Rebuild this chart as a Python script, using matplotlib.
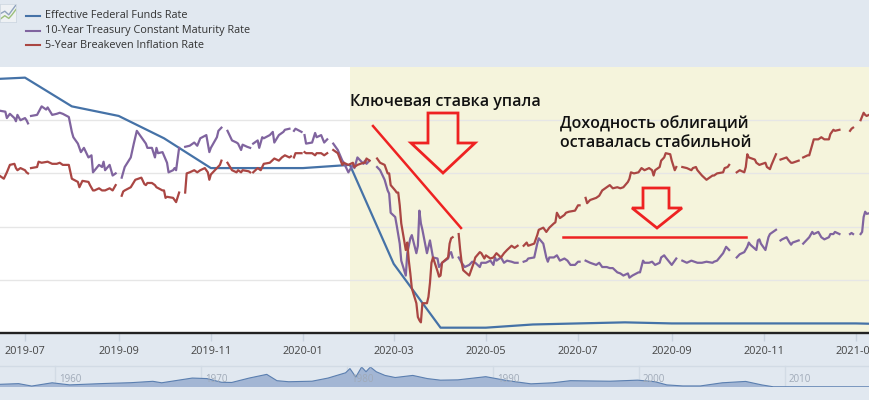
import numpy as np
import pandas as pd
import matplotlib
matplotlib.use("Agg")
import matplotlib.pyplot as plt
from matplotlib.patches import Polygon
from matplotlib.lines import Line2D
import matplotlib.transforms as mtransforms

nan = np.nan

# ---------------- data ----------------
legend_labels = ["Effective Federal Funds Rate",
                 "10-Year Treasury Constant Maturity Rate",
                 "5-Year Breakeven Inflation Rate"]

fedfunds_dates = ["2019-06-01", "2019-07-01", "2019-08-01", "2019-09-01", "2019-10-01",
                  "2019-11-01", "2019-12-01", "2020-01-01", "2020-02-01", "2020-03-01",
                  "2020-04-01", "2020-05-01", "2020-06-01", "2020-07-01", "2020-08-01",
                  "2020-09-01", "2020-10-01", "2020-11-01", "2020-12-01", "2021-01-01",
                  "2021-02-01"]
fedfunds_values = [2.38, 2.40, 2.13, 2.04, 1.83, 1.55, 1.55, 1.55, 1.58, 0.65,
                   0.05, 0.05, 0.08, 0.09, 0.10, 0.09, 0.09, 0.09, 0.09, 0.09,
                   0.08]

t10_dates = [
    "2019-06-14", "2019-06-18", "2019-06-19", "2019-06-21", "2019-06-24", "2019-06-25", "2019-06-26",
    "2019-06-28", "2019-07-01", "2019-07-02", "2019-07-03", "2019-07-04", "2019-07-05", "2019-07-09",
    "2019-07-12", "2019-07-15", "2019-07-16", "2019-07-19", "2019-07-22", "2019-07-24", "2019-07-26",
    "2019-07-30", "2019-08-01", "2019-08-02", "2019-08-05", "2019-08-07", "2019-08-09", "2019-08-12",
    "2019-08-14", "2019-08-15", "2019-08-19", "2019-08-21", "2019-08-22", "2019-08-23", "2019-08-26",
    "2019-08-28", "2019-08-30", "2019-09-02", "2019-09-03", "2019-09-05", "2019-09-09", "2019-09-11",
    "2019-09-13", "2019-09-16", "2019-09-18", "2019-09-19", "2019-09-20", "2019-09-23", "2019-09-25",
    "2019-09-26", "2019-09-27", "2019-09-30", "2019-10-03", "2019-10-04", "2019-10-07", "2019-10-08",
    "2019-10-09", "2019-10-11", "2019-10-14", "2019-10-15", "2019-10-18", "2019-10-21", "2019-10-23",
    "2019-10-25", "2019-10-29", "2019-10-31", "2019-11-01", "2019-11-05", "2019-11-06", "2019-11-08",
    "2019-11-11", "2019-11-12", "2019-11-15", "2019-11-18", "2019-11-19", "2019-11-21", "2019-11-22",
    "2019-11-25", "2019-11-27", "2019-11-28", "2019-11-29", "2019-12-02", "2019-12-03", "2019-12-05",
    "2019-12-06", "2019-12-10", "2019-12-12", "2019-12-13", "2019-12-16", "2019-12-19", "2019-12-20",
    "2019-12-23", "2019-12-25", "2019-12-26", "2019-12-27", "2019-12-31", "2020-01-01", "2020-01-02",
    "2020-01-03", "2020-01-07", "2020-01-09", "2020-01-10", "2020-01-13", "2020-01-15", "2020-01-17",
    "2020-01-20", "2020-01-21", "2020-01-24", "2020-01-27", "2020-01-28", "2020-01-31", "2020-02-03",
    "2020-02-04", "2020-02-06", "2020-02-10", "2020-02-11", "2020-02-12", "2020-02-14", "2020-02-17",
    "2020-02-19", "2020-02-21", "2020-02-24", "2020-02-26", "2020-02-27", "2020-02-28", "2020-03-02",
    "2020-03-03", "2020-03-05", "2020-03-06", "2020-03-09", "2020-03-10", "2020-03-12", "2020-03-13",
    "2020-03-16", "2020-03-17", "2020-03-18", "2020-03-19", "2020-03-20", "2020-03-23", "2020-03-25",
    "2020-03-27", "2020-03-30", "2020-03-31", "2020-04-02", "2020-04-06", "2020-04-07", "2020-04-08",
    "2020-04-09", "2020-04-10", "2020-04-13", "2020-04-15", "2020-04-17", "2020-04-20", "2020-04-22",
    "2020-04-24", "2020-04-27", "2020-04-28", "2020-05-01", "2020-05-04", "2020-05-06", "2020-05-07",
    "2020-05-08", "2020-05-11", "2020-05-13", "2020-05-15", "2020-05-18", "2020-05-20", "2020-05-22",
    "2020-05-25", "2020-05-26", "2020-05-28", "2020-05-29", "2020-06-02", "2020-06-04", "2020-06-05",
    "2020-06-08", "2020-06-10", "2020-06-11", "2020-06-12", "2020-06-15", "2020-06-17", "2020-06-19",
    "2020-06-22", "2020-06-24", "2020-06-26", "2020-06-29", "2020-07-01", "2020-07-02", "2020-07-03",
    "2020-07-06", "2020-07-09", "2020-07-13", "2020-07-15", "2020-07-17", "2020-07-20", "2020-07-22",
    "2020-07-24", "2020-07-27", "2020-07-29", "2020-07-31", "2020-08-03", "2020-08-04", "2020-08-06",
    "2020-08-10", "2020-08-11", "2020-08-13", "2020-08-14", "2020-08-17", "2020-08-19", "2020-08-21",
    "2020-08-24", "2020-08-25", "2020-08-27", "2020-08-28", "2020-09-01", "2020-09-04", "2020-09-07",
    "2020-09-08", "2020-09-11", "2020-09-14", "2020-09-18", "2020-09-21", "2020-09-24", "2020-09-28",
    "2020-09-29", "2020-10-01", "2020-10-05", "2020-10-06", "2020-10-07", "2020-10-09", "2020-10-12",
    "2020-10-14", "2020-10-16", "2020-10-19", "2020-10-21", "2020-10-22", "2020-10-23", "2020-10-27",
    "2020-10-28", "2020-10-29", "2020-10-30", "2020-11-02", "2020-11-04", "2020-11-05", "2020-11-09",
    "2020-11-11", "2020-11-12", "2020-11-13", "2020-11-16", "2020-11-18", "2020-11-19", "2020-11-20",
    "2020-11-24", "2020-11-26", "2020-11-27", "2020-12-01", "2020-12-03", "2020-12-04", "2020-12-07",
    "2020-12-09", "2020-12-11", "2020-12-14", "2020-12-15", "2020-12-17", "2020-12-18", "2020-12-21",
    "2020-12-24", "2020-12-28", "2020-12-29", "2020-12-30", "2021-01-01", "2021-01-04", "2021-01-05",
    "2021-01-06", "2021-01-07", "2021-01-08", "2021-01-11"]
t10_values = [
    2.09, 2.08, 2.02, 2.06, 2.02, 1.99, 2.05,
    2.00, 2.02, 2.00, 1.97, nan, 2.04, 2.05,
    2.13, 2.10, 2.12, 2.05, 2.06, 2.07, 2.06,
    2.03, 1.89, 1.84, 1.78, 1.70, 1.74, 1.65,
    1.67, 1.51, 1.58, 1.56, 1.61, 1.53, 1.58,
    1.48, 1.50, nan, 1.46, 1.56, 1.65, 1.78,
    1.90, 1.84, 1.80, 1.78, 1.74, 1.74, 1.65,
    1.74, 1.69, 1.70, 1.60, 1.51, 1.53, 1.55,
    1.53, 1.74, nan, 1.75, 1.76, 1.79, 1.76,
    1.83, 1.86, 1.70, 1.74, 1.84, 1.90, 1.93,
    nan, 1.90, 1.81, 1.79, 1.78, 1.72, 1.77,
    1.75, 1.74, nan, 1.78, 1.81, 1.74, 1.84,
    1.83, 1.86, 1.89, 1.79, 1.86, 1.89, 1.91,
    1.92, nan, 1.90, 1.92, 1.89, nan, 1.86,
    1.78, 1.79, 1.88, 1.84, 1.86, 1.79, 1.82,
    nan, 1.78, 1.72, 1.62, 1.60, 1.51, 1.58,
    1.55, 1.65, 1.59, 1.62, 1.59, 1.62, nan,
    1.56, 1.53, 1.44, 1.34, 1.31, 1.13, 1.09,
    1.01, 0.84, 0.68, 0.54, 0.75, 0.89, 0.92,
    0.75, 0.82, 1.15, 1.03, 0.97, 0.75, 0.87,
    0.71, 0.70, 0.62, 0.66, 0.70, 0.75, 0.76,
    0.71, nan, 0.71, 0.66, 0.62, 0.64, 0.67,
    0.66, 0.62, 0.66, 0.66, 0.68, 0.64, 0.71,
    0.68, 0.71, 0.66, 0.68, 0.67, 0.66, 0.66,
    nan, 0.67, 0.68, 0.70, 0.71, 0.84, 0.89,
    0.84, 0.71, 0.67, 0.71, 0.71, 0.73, 0.68,
    0.70, 0.68, 0.64, 0.64, 0.67, 0.67, nan,
    0.68, 0.66, 0.64, 0.66, 0.62, 0.62, 0.61,
    0.61, 0.57, 0.56, 0.54, 0.56, 0.52, 0.54,
    0.57, 0.57, 0.68, 0.66, 0.66, 0.67, 0.64,
    0.66, 0.71, 0.73, 0.71, 0.64, 0.70, nan,
    0.68, 0.66, 0.68, 0.66, 0.66, 0.67, 0.66,
    0.67, 0.68, 0.75, 0.78, 0.81, 0.78, nan,
    0.71, 0.74, 0.76, 0.81, 0.85, 0.83, 0.78,
    0.87, 0.88, 0.84, 0.78, 0.90, 0.93, 0.97,
    nan, 0.87, 0.88, 0.90, 0.85, 0.83, 0.85,
    0.87, nan, 0.84, 0.90, 0.95, 0.93, 0.95,
    0.90, 0.88, 0.90, 0.93, 0.93, 0.95, 0.93,
    nan, 0.93, 0.94, 0.93, nan, 0.93, 0.95,
    1.09, 1.14, 1.12, 1.13]

be5_dates = [
    "2019-06-14", "2019-06-17", "2019-06-19", "2019-06-21", "2019-06-24", "2019-06-25", "2019-06-26",
    "2019-06-28", "2019-07-01", "2019-07-02", "2019-07-03", "2019-07-04", "2019-07-05", "2019-07-09",
    "2019-07-10", "2019-07-12", "2019-07-16", "2019-07-19", "2019-07-22", "2019-07-24", "2019-07-26",
    "2019-07-30", "2019-08-01", "2019-08-05", "2019-08-06", "2019-08-08", "2019-08-12", "2019-08-13",
    "2019-08-15", "2019-08-16", "2019-08-19", "2019-08-21", "2019-08-23", "2019-08-26", "2019-08-28",
    "2019-08-30", "2019-09-02", "2019-09-03", "2019-09-04", "2019-09-05", "2019-09-09", "2019-09-12",
    "2019-09-16", "2019-09-18", "2019-09-19", "2019-09-20", "2019-09-23", "2019-09-25", "2019-09-26",
    "2019-09-30", "2019-10-01", "2019-10-02", "2019-10-03", "2019-10-07", "2019-10-08", "2019-10-09",
    "2019-10-11", "2019-10-14", "2019-10-15", "2019-10-16", "2019-10-18", "2019-10-21", "2019-10-23",
    "2019-10-25", "2019-10-28", "2019-10-30", "2019-10-31", "2019-11-01", "2019-11-05", "2019-11-07",
    "2019-11-08", "2019-11-11", "2019-11-12", "2019-11-15", "2019-11-18", "2019-11-19", "2019-11-21",
    "2019-11-22", "2019-11-26", "2019-11-27", "2019-11-28", "2019-11-29", "2019-12-02", "2019-12-04",
    "2019-12-06", "2019-12-10", "2019-12-13", "2019-12-16", "2019-12-18", "2019-12-20", "2019-12-23",
    "2019-12-24", "2019-12-25", "2019-12-26", "2019-12-27", "2019-12-31", "2020-01-01", "2020-01-02",
    "2020-01-03", "2020-01-07", "2020-01-09", "2020-01-10", "2020-01-13", "2020-01-15", "2020-01-17",
    "2020-01-20", "2020-01-21", "2020-01-24", "2020-01-27", "2020-01-28", "2020-01-31", "2020-02-03",
    "2020-02-04", "2020-02-06", "2020-02-10", "2020-02-11", "2020-02-12", "2020-02-14", "2020-02-17",
    "2020-02-19", "2020-02-21", "2020-02-24", "2020-02-26", "2020-02-27", "2020-02-28", "2020-03-02",
    "2020-03-03", "2020-03-04", "2020-03-05", "2020-03-06", "2020-03-09", "2020-03-10", "2020-03-11",
    "2020-03-12", "2020-03-13", "2020-03-16", "2020-03-17", "2020-03-18", "2020-03-19", "2020-03-20",
    "2020-03-23", "2020-03-24", "2020-03-25", "2020-03-26", "2020-03-27", "2020-03-30", "2020-03-31",
    "2020-04-01", "2020-04-02", "2020-04-06", "2020-04-07", "2020-04-08", "2020-04-09", "2020-04-10",
    "2020-04-13", "2020-04-14", "2020-04-15", "2020-04-16", "2020-04-20", "2020-04-21", "2020-04-22",
    "2020-04-23", "2020-04-24", "2020-04-27", "2020-04-28", "2020-04-30", "2020-05-01", "2020-05-04",
    "2020-05-06", "2020-05-08", "2020-05-11", "2020-05-13", "2020-05-15", "2020-05-18", "2020-05-20",
    "2020-05-22", "2020-05-25", "2020-05-26", "2020-05-28", "2020-05-29", "2020-06-02", "2020-06-04",
    "2020-06-05", "2020-06-08", "2020-06-10", "2020-06-12", "2020-06-15", "2020-06-16", "2020-06-17",
    "2020-06-19", "2020-06-22", "2020-06-23", "2020-06-25", "2020-06-29", "2020-07-01", "2020-07-02",
    "2020-07-03", "2020-07-06", "2020-07-07", "2020-07-09", "2020-07-13", "2020-07-15", "2020-07-17",
    "2020-07-20", "2020-07-22", "2020-07-24", "2020-07-27", "2020-07-29", "2020-07-31", "2020-08-03",
    "2020-08-04", "2020-08-05", "2020-08-07", "2020-08-10", "2020-08-12", "2020-08-14", "2020-08-17",
    "2020-08-19", "2020-08-20", "2020-08-21", "2020-08-24", "2020-08-25", "2020-08-27", "2020-08-28",
    "2020-08-31", "2020-09-01", "2020-09-03", "2020-09-04", "2020-09-07", "2020-09-08", "2020-09-11",
    "2020-09-14", "2020-09-15", "2020-09-17", "2020-09-18", "2020-09-21", "2020-09-24", "2020-09-28",
    "2020-09-29", "2020-10-01", "2020-10-05", "2020-10-06", "2020-10-08", "2020-10-09", "2020-10-12",
    "2020-10-14", "2020-10-16", "2020-10-19", "2020-10-20", "2020-10-21", "2020-10-22", "2020-10-26",
    "2020-10-27", "2020-10-29", "2020-11-02", "2020-11-03", "2020-11-05", "2020-11-06", "2020-11-09",
    "2020-11-11", "2020-11-12", "2020-11-16", "2020-11-17", "2020-11-19", "2020-11-20", "2020-11-24",
    "2020-11-26", "2020-11-27", "2020-11-30", "2020-12-01", "2020-12-03", "2020-12-04", "2020-12-07",
    "2020-12-09", "2020-12-11", "2020-12-14", "2020-12-15", "2020-12-17", "2020-12-18", "2020-12-21",
    "2020-12-24", "2020-12-28", "2020-12-29", "2020-12-30", "2021-01-01", "2021-01-04", "2021-01-06",
    "2021-01-07", "2021-01-08", "2021-01-11"]
be5_values = [
    1.48, 1.45, 1.51, 1.58, 1.59, 1.55, 1.53,
    1.55, 1.53, 1.51, 1.50, nan, 1.55, 1.56,
    1.61, 1.60, 1.61, 1.59, 1.59, 1.60, 1.58,
    1.58, 1.45, 1.42, 1.37, 1.43, 1.42, 1.39,
    1.34, 1.34, 1.36, 1.34, 1.34, 1.36, 1.34,
    1.39, nan, 1.29, 1.33, 1.34, 1.37, 1.44,
    1.46, 1.40, 1.39, 1.41, 1.41, 1.39, 1.37,
    1.34, 1.34, 1.27, 1.28, 1.27, 1.25, 1.23,
    1.32, nan, 1.32, 1.50, 1.51, 1.53, 1.51,
    1.53, 1.55, 1.51, 1.44, 1.49, 1.55, 1.58,
    1.62, nan, 1.60, 1.53, 1.51, 1.53, 1.51,
    1.53, 1.52, 1.51, nan, 1.51, 1.55, 1.53,
    1.59, 1.60, 1.64, 1.62, 1.65, 1.67, 1.65,
    1.66, nan, 1.65, 1.69, 1.69, nan, 1.70,
    1.69, 1.69, 1.67, 1.69, 1.69, 1.67, 1.69,
    nan, 1.72, 1.69, 1.58, 1.60, 1.58, 1.60,
    1.56, 1.58, 1.60, 1.60, 1.64, 1.62, nan,
    1.64, 1.60, 1.58, 1.50, 1.50, 1.39, 1.34,
    1.32, 1.32, 1.20, 1.03, 0.78, 0.85, 0.68,
    0.56, 0.42, 0.28, 0.15, 0.12, 0.10, 0.28,
    0.28, 0.34, 0.47, 0.66, 0.71, 0.58, 0.53,
    0.54, 0.66, 0.71, 0.84, 0.89, 0.90, nan,
    0.93, 0.78, 0.66, 0.59, 0.54, 0.58, 0.62,
    0.66, 0.71, 0.76, 0.75, 0.70, 0.73, 0.70,
    0.71, 0.75, 0.71, 0.75, 0.78, 0.82, 0.80,
    0.82, nan, 0.82, 0.85, 0.82, 0.84, 0.92,
    0.97, 0.99, 0.95, 0.99, 1.03, 1.04, 1.13,
    1.08, 1.11, 1.13, 1.14, 1.15, 1.20, 1.20,
    nan, 1.27, 1.22, 1.25, 1.27, 1.29, 1.34,
    1.37, 1.39, 1.36, 1.37, 1.36, 1.37, 1.42,
    1.45, 1.51, 1.50, 1.51, 1.55, 1.53, 1.55,
    1.53, 1.48, 1.53, 1.56, 1.62, 1.65, 1.69,
    1.68, 1.62, 1.53, 1.56, nan, 1.56, 1.55,
    1.53, 1.55, 1.56, 1.53, 1.48, 1.44, 1.48,
    1.48, 1.50, 1.51, 1.55, 1.56, 1.58, nan,
    1.51, 1.53, 1.51, 1.56, 1.68, 1.65, 1.63,
    1.60, 1.58, 1.60, 1.56, 1.54, 1.58, 1.68,
    nan, 1.63, 1.65, 1.63, 1.60, 1.60, 1.62,
    nan, 1.65, 1.67, 1.67, 1.77, 1.82, 1.82,
    1.84, 1.82, 1.82, 1.87, 1.91, 1.90, 1.91,
    nan, 1.90, 1.92, 1.93, nan, 2.00, 2.07,
    2.05, 2.04, 2.06]

tick_dates = ["2019-07-01", "2019-09-01", "2019-11-01", "2020-01-01", "2020-03-01",
              "2020-05-01", "2020-07-01", "2020-09-01", "2020-11-01", "2021-01-01"]
tick_labels = ["2019-07", "2019-09", "2019-11", "2020-01", "2020-03",
               "2020-05", "2020-07", "2020-09", "2020-11", "2021-01"]

shade_start = "2020-02-01"

# navigator (long history of the fed funds rate)
nav_years = [1955.6, 1956.5, 1957.5, 1958.4, 1959.8, 1961.0, 1963.3, 1965.2, 1966.7, 1967.3,
             1969.4, 1970.4, 1971.4, 1972.1, 1973.3, 1974.5, 1975.2, 1976.0, 1977.6, 1978.7,
             1979.9, 1980.2, 1980.6, 1981.0, 1981.3, 1981.6, 1982.0, 1982.6, 1983.3, 1984.5,
             1985.5, 1986.4, 1987.6, 1989.5, 1991.0, 1992.6, 1994.1, 1995.3, 1998.0, 1999.9,
             2001.1, 2001.9, 2003.0, 2004.2, 2005.7, 2007.3, 2008.4, 2009.2, 2016.0]
nav_values = [2.2, 2.7, 3.2, 0.9, 4.0, 2.0, 3.3, 4.1, 5.4, 4.0,
              8.5, 8.0, 4.5, 4.3, 8.5, 12.0, 6.0, 5.0, 5.5, 8.5,
              13.5, 17.5, 9.5, 19.0, 14.5, 19.0, 14.5, 11.0, 9.0, 11.0,
              8.0, 6.5, 6.8, 9.8, 6.0, 3.0, 4.0, 6.0, 5.5, 6.5,
              5.0, 2.0, 1.0, 1.0, 4.0, 5.3, 2.0, 0.2, 0.15]
nav_label_years = [1960, 1970, 1980, 1990, 2000, 2010]

annot_1 = "Ключевая ставка упала"
annot_2 = "Доходность облигаций\nоставалась стабильной"

# ---------------- style ----------------
BG = "#e1e8f0"
C_BLUE = "#4572a7"
C_PURPLE = "#80649f"
C_RED = "#aa4643"
C_ANN = "#ee2222"
FONT = ["Open Sans", "DejaVu Sans"]
plt.rcParams["font.family"] = FONT

W, H = 870.0, 400.0
fig = plt.figure(figsize=(8.7, 4.0), dpi=100, facecolor=BG)

top_px, bot_px = 67.0, 333.0
ax = fig.add_axes([0, 1 - bot_px / H, 1, (bot_px - top_px) / H])
ax.set_facecolor("white")

x_left = pd.Timestamp("2019-06-14 11:00")
x_right = pd.Timestamp("2021-01-10 05:00")
ax.set_xlim(x_left, x_right)
ax.set_ylim(0, 2.5)

ax.axvspan(pd.Timestamp(shade_start), x_right, color="#f5f4dc", zorder=0.5, lw=0)
for g in [0.5, 1.0, 1.5, 2.0]:
    ax.axhline(g, color="#e6e6e6", lw=1.0, zorder=1)

ax.plot(pd.to_datetime(fedfunds_dates), fedfunds_values, color=C_BLUE, lw=1.6, zorder=3)
ax.plot(pd.to_datetime(t10_dates), t10_values, color=C_PURPLE, lw=1.6, zorder=3)
ax.plot(pd.to_datetime(be5_dates), be5_values, color=C_RED, lw=1.6, zorder=3)

for s in ["top", "left", "right"]:
    ax.spines[s].set_visible(False)
ax.spines["bottom"].set_color("#222222")
ax.spines["bottom"].set_linewidth(1.7)
ax.set_yticks([])
ax.set_xticks(pd.to_datetime(tick_dates))
ax.set_xticklabels(tick_labels)
ax.tick_params(axis="x", length=6, width=1, color="#c8d3df", pad=3,
               labelsize=7.8, labelcolor="#444444")

# annotations (positions given in screenshot pixels -> axes fraction)
def af(px, py):
    return (px / W, (bot_px - py) / (bot_px - top_px))

ann_kw = dict(transform=ax.transAxes, fontsize=11.5, fontweight="semibold",
              color="#111111", va="baseline", ha="left", zorder=6)
ax.text(*af(350, 106), annot_1, **ann_kw)
ax.text(*af(560, 128), annot_2.split("\n")[0], **ann_kw)
ax.text(*af(560, 147), annot_2.split("\n")[1], **ann_kw)

ax.add_line(Line2D(*zip(af(373, 126), af(461, 228)), transform=ax.transAxes,
                   color=C_ANN, lw=1.8, zorder=6))
ax.add_line(Line2D(*zip(af(563, 237), af(746, 237)), transform=ax.transAxes,
                   color=C_ANN, lw=1.8, zorder=6))

arrow1 = [(428, 113), (458, 113), (458, 143), (475, 143), (443, 173), (411, 143), (428, 143)]
arrow2 = [(643, 188), (669, 188), (669, 208), (682, 208), (657, 228), (632, 208), (643, 208)]
for arr in (arrow1, arrow2):
    ax.add_patch(Polygon([af(*p) for p in arr], closed=True, transform=ax.transAxes,
                         facecolor="none", edgecolor=C_ANN, lw=2.0, joinstyle="miter", zorder=6))

# legend (top-left)
leg_y = [16, 31, 45]
leg_colors = [C_BLUE, C_PURPLE, C_RED]
for yy, lab, col in zip(leg_y, legend_labels, leg_colors):
    fig.add_artist(Line2D([26 / W, 40 / W], [1 - yy / H, 1 - yy / H], transform=fig.transFigure,
                          color=col, lw=1.5))
    fig.text(45 / W, 1 - yy / H, lab, fontsize=7.8, color="#333333", va="center", ha="left")

# small chart icon (cropped at the left edge)
icon = fig.add_axes([0, 1 - 22 / H, 16 / W, 18 / H])
icon.set_facecolor("#eef1f4")
icon.plot([0, 0.3, 0.55, 0.75, 1.0], [0.45, 0.6, 0.4, 0.65, 0.95], color="#8fa3bd", lw=1)
icon.plot([0, 0.3, 0.55, 0.75, 1.0], [0.15, 0.35, 0.2, 0.4, 0.7], color="#9bbf7a", lw=1)
icon.set_xlim(0, 1)
icon.set_ylim(0, 1)
icon.set_xticks([])
icon.set_yticks([])
for s in icon.spines.values():
    s.set_color("#cfd8e2")
    s.set_linewidth(0.6)

# navigator
fig.add_artist(Line2D([0, 1], [1 - 366 / H, 1 - 366 / H], transform=fig.transFigure,
                      color="#d2dbe5", lw=1.0))
nav = fig.add_axes([0, 13 / H, 1, 25 / H])
nav.set_facecolor("none")
nav.set_xlim(1956.23, 2015.82)
nav.set_ylim(0, 23.75)
blend = mtransforms.blended_transform_factory(nav.transData, nav.transAxes)
for yr in nav_label_years:
    nav.plot([yr, yr], [0.05, 0.84], transform=blend, color="#d2dbe5", lw=1.0, zorder=0)
nav.fill_between(nav_years, nav_values, 0, color="#a3b6d4", lw=0, zorder=1)
nav.plot(nav_years, nav_values, color="#5b7fb0", lw=0.8, zorder=2)
nav.axis("off")
for yr in nav_label_years:
    nav.text(yr + 0.25, 0.28, str(yr), transform=blend, fontsize=7, color="#a0aab8",
             ha="left", va="center", zorder=3)

fig.savefig("out.png", dpi=100, facecolor=BG)
